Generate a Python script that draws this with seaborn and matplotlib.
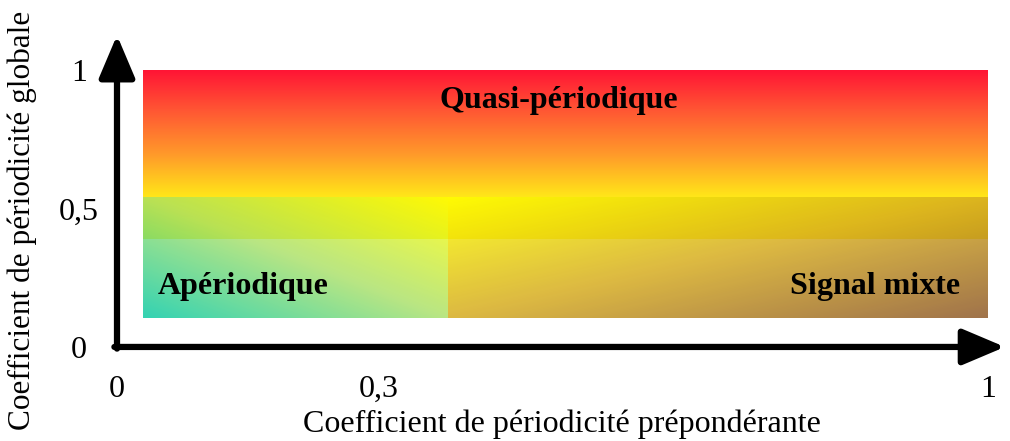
import numpy as np
import seaborn as sns
from matplotlib import pyplot as plt
from matplotlib.colors import LinearSegmentedColormap

# axes ticks
x_ticks = [0, 0.3, 1]
x_ticklabels = ["0", "0,3", "1"]
y_ticks = [0, 0.5, 1]
y_ticklabels = ["0", "0,5", "1"]

# zones du plan (coefficient prépondérant, coefficient global)
region_names = ["Quasi-périodique", "Apériodique", "Signal mixte"]
region_x0 = [0.03, 0.03, 0.38]
region_x1 = [1.0, 0.38, 1.0]
region_y0 = [0.39, 0.105, 0.105]
region_y1 = [1.0, 0.54, 0.54]

sns.set_theme(style="white")
plt.rcParams['font.family'] = ['Liberation Serif', 'DejaVu Serif']
plt.rcParams['text.color'] = 'black'
plt.rcParams['axes.labelcolor'] = 'black'
plt.rcParams['xtick.color'] = 'black'
plt.rcParams['ytick.color'] = 'black'

fig = plt.figure(figsize=(10.1, 4.41), dpi=100)
ax = fig.add_axes([115 / 1010, 91 / 441, 893 / 1010, 317 / 441])
ax.set_xlim(-0.0023, 1.023)
ax.set_ylim(-0.011, 1.134)

n = 200
u, v = np.meshgrid(np.linspace(0, 1, n), np.linspace(0, 1, n))  # v: 0 = haut

cmap_quasi = LinearSegmentedColormap.from_list(
    "quasi", ["#ff1535", "#ff5a33", "#ff9a2a", "#ffe619", "#ffec10"])
cmap_aper = LinearSegmentedColormap.from_list(
    "aper", ["#ffff00", "#a8e064", "#00c8a0"])
cmap_mixte = LinearSegmentedColormap.from_list(
    "mixte", ["#ffff00", "#d6ac20", "#8f5a2a"])

grads = [v, 0.5 * ((1 - u) + v), 0.5 * (u + v)]
cmaps = [cmap_quasi, cmap_aper, cmap_mixte]
alphas = [1.0, 0.8, 0.85]

for i in range(3):
    ax.imshow(grads[i], cmap=cmaps[i], vmin=0, vmax=1, alpha=alphas[i],
              extent=(region_x0[i], region_x1[i], region_y0[i], region_y1[i]),
              origin="upper", aspect="auto", interpolation="bilinear", zorder=1 + i * 0.1)

ax.text(0.507, 0.89, region_names[0], ha="center", va="center",
        fontsize=23, fontweight="bold", zorder=5)
ax.text(0.047, 0.22, region_names[1], ha="left", va="center",
        fontsize=23, fontweight="bold", zorder=5)
ax.text(0.968, 0.22, region_names[2], ha="right", va="center",
        fontsize=23, fontweight="bold", zorder=5)

# flèches des axes
arrow = dict(arrowstyle="-|>,head_length=1.3,head_width=0.55", lw=4.5,
             color="black", shrinkA=0, shrinkB=0, mutation_scale=20)
ax.annotate("", xy=(1.0195, 0), xytext=(-0.003, 0), arrowprops=arrow, zorder=6)
ax.annotate("", xy=(0, 1.126), xytext=(0, -0.006), arrowprops=arrow, zorder=6)

for s in ax.spines.values():
    s.set_visible(False)
ax.grid(False)

ax.set_xticks(x_ticks)
ax.set_xticklabels(x_ticklabels, fontsize=23)
ax.set_yticks(y_ticks)
ax.set_yticklabels(y_ticklabels, fontsize=23, ha="center")
ax.tick_params(axis="x", length=0, pad=18)
ax.tick_params(axis="y", length=0, pad=26)

ax.set_xlabel("Coefficient de périodicité prépondérante", fontsize=23, labelpad=4)
ax.set_ylabel("Coefficient de périodicité globale", fontsize=22.5, va="center")
ax.yaxis.set_label_coords(-0.104, 0.41)

fig.savefig("out.png", dpi=100)
